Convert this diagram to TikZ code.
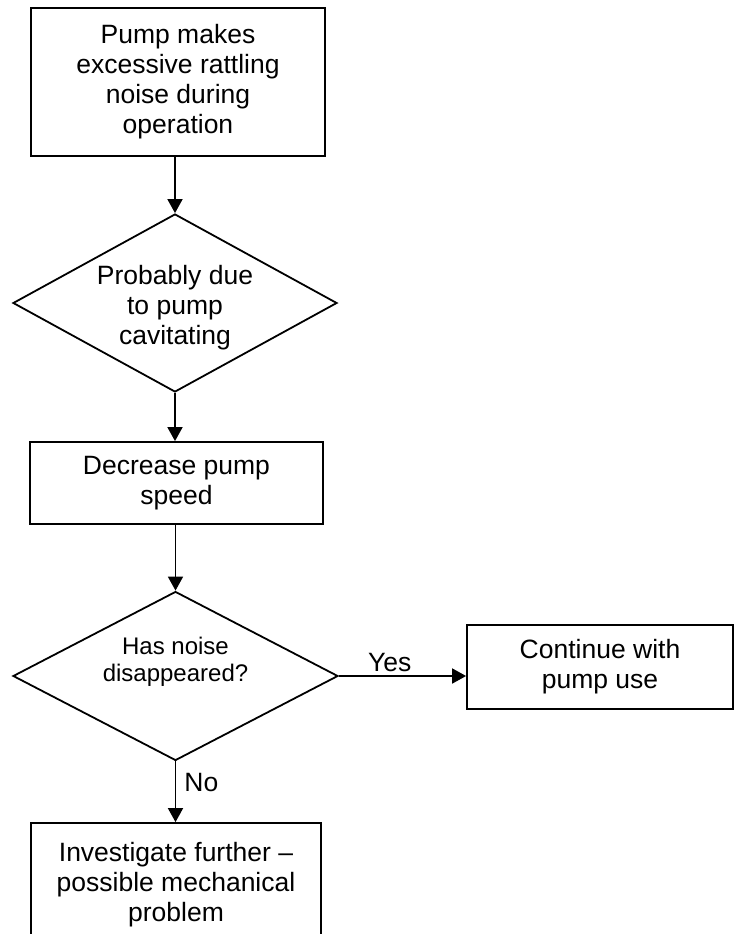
\documentclass[tikz,border=0pt]{standalone}
\usepackage{fontspec}
\setmainfont{Liberation Sans}
\usetikzlibrary{shapes.geometric,arrows.meta}

\begin{document}
\begin{tikzpicture}[
  x=1pt, y=-1pt,
  stepbox/.style={rectangle,draw,line width=1.8pt,align=center,inner sep=0pt,font=\fontsize{26.5}{30}\selectfont},
  choice/.style={diamond,draw,line width=1.8pt,inner sep=0pt,aspect=1.82},
  inside/.style={align=center,inner sep=0pt},
  flow/.style={line width=1.8pt,-{Triangle[length=14pt,width=15pt]}},
  tag/.style={font=\fontsize{26.5}{30}\selectfont,inner sep=3pt}
  ]
  \useasboundingbox (0,0) rectangle (734,934);
  % steps and decisions
  \node[stepbox, minimum width=294pt, minimum height=148pt] (noise) at (178,82) {Pump makes\\excessive rattling\\noise during\\operation};
  \node[choice, minimum width=324pt, minimum height=178pt,
    label={[inside, yshift=-5pt, font=\fontsize{26.5}{30}\selectfont]center:Probably due\\to pump\\cavitating}] (cavit) at (175,303) {};
  \node[stepbox, minimum width=293pt, minimum height=82pt] (speed) at (176.5,483) {Decrease pump\\speed};
  \node[choice, minimum width=325pt, minimum height=169pt,
    label={[inside, yshift=14.5pt, font=\fontsize{24}{27}\selectfont]center:Has noise\\disappeared?}] (gone) at (175.5,676) {};
  \node[stepbox, minimum width=266pt, minimum height=84pt] (cont) at (600,667) {Continue with\\pump use};
  \node[stepbox, minimum width=290pt, minimum height=124pt] (invest) at (176,885) {Investigate further --\\possible mechanical\\problem};
  % connectors
  \draw[flow] (cavit.north |- noise.south) -- (cavit.north);
  \draw[flow] (cavit.south) -- (cavit.south |- speed.north);
  \draw[flow] (gone.north |- speed.south) -- (gone.north);
  \draw[flow] (gone.east) -- node[tag, above, pos=0.4] (yes) {Yes} (gone.east -| cont.west);
  \draw[flow] (gone.south) -- node[tag, right, pos=0.35, xshift=5pt] (no) {No} (gone.south |- invest.north);
\end{tikzpicture}
\end{document}
